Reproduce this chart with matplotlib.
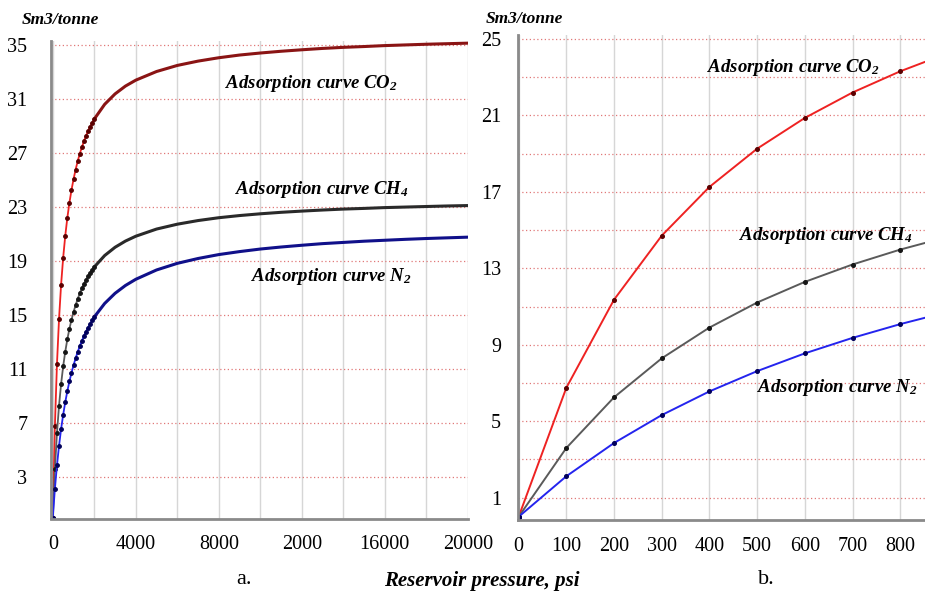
import matplotlib.pyplot as plt

plt.rcParams['font.family'] = ['Liberation Serif', 'DejaVu Serif']
plt.rcParams['mathtext.fontset'] = 'custom'
plt.rcParams['mathtext.rm'] = 'Liberation Serif:italic:bold'
plt.rcParams['mathtext.it'] = 'Liberation Serif:italic:bold'

# pressure, psi
pressure = [0, 100, 200, 300, 400, 500, 600, 700, 800, 900, 1000,
            1100, 1200, 1300, 1400, 1500, 1600, 1700, 1800, 1900, 2000,
            2500, 3000, 3500, 4000, 5000, 6000, 7000, 8000, 9000, 10000,
            11000, 12000, 13000, 14000, 15000, 16000, 17000, 18000, 19000, 20000]

# adsorbed volume, Sm3/tonne
co2 = [0, 6.75, 11.36, 14.71, 17.26, 19.26, 20.87, 22.20, 23.31, 24.26, 25.07,
       25.78, 26.40, 26.95, 27.43, 27.87, 28.27, 28.63, 28.95, 29.25, 29.52,
       30.61, 31.38, 31.96, 32.40, 33.04, 33.49, 33.81, 34.06, 34.26, 34.41,
       34.54, 34.65, 34.75, 34.83, 34.89, 34.96, 35.01, 35.06, 35.10, 35.14]
ch4 = [0, 3.60, 6.25, 8.29, 9.90, 11.21, 12.29, 13.20, 13.98, 14.65, 15.23,
       15.74, 16.20, 16.61, 16.97, 17.30, 17.60, 17.87, 18.12, 18.35, 18.56,
       19.41, 20.02, 20.48, 20.84, 21.37, 21.73, 22.00, 22.21, 22.37, 22.50,
       22.61, 22.70, 22.78, 22.85, 22.90, 22.96, 23.00, 23.04, 23.08, 23.11]
n2 = [0, 2.12, 3.86, 5.32, 6.56, 7.62, 8.55, 9.36, 10.08, 10.72, 11.29,
      11.80, 12.27, 12.70, 13.08, 13.44, 13.77, 14.07, 14.35, 14.61, 14.86,
      15.86, 16.61, 17.19, 17.65, 18.34, 18.83, 19.19, 19.48, 19.70, 19.89,
      20.04, 20.17, 20.29, 20.38, 20.47, 20.54, 20.61, 20.67, 20.72, 20.77]

a_xticks = [0, 4000, 8000, 12000, 16000, 20000]
a_xlabels = ['0', '4000', '8000', '2000', '16000', '20000']
a_xgrid = [2000, 6000, 10000, 14000, 18000]
a_yticks = [3, 7, 11, 15, 19, 23, 27, 31, 35]

b_xticks = [0, 100, 200, 300, 400, 500, 600, 700, 800]
b_yticks = [1, 5, 9, 13, 17, 21, 25]
b_ygrid = [3, 7, 11, 15, 19, 23]

curves = [
    (co2, '#ee2222', '#5a0000', '#8a1414', 'Adsorption curve CO$_2$'),
    (ch4, '#5a5a5a', '#151515', '#2a2a2a', 'Adsorption curve CH$_4$'),
    (n2, '#2424ee', '#00005a', '#10108a', 'Adsorption curve N$_2$'),
]

W, H = 925, 599
fig = plt.figure(figsize=(W / 100, H / 100), dpi=100)
ax_a = fig.add_axes([51 / W, 1 - 518.5 / H, 416.8 / W, 477.5 / H])
ax_b = fig.add_axes([517.7 / W, 1 - 520 / H, 407.3 / W, 485 / H])


def style_axes(ax):
    ax.set_axisbelow(True)
    for s in ['top', 'right']:
        ax.spines[s].set_visible(False)
    for s in ['left', 'bottom']:
        ax.spines[s].set_color('#8a8a8a')
        ax.spines[s].set_linewidth(2)
    ax.grid(True, which='both', axis='x', color='#d6d6d6', lw=1, ls='-')
    ax.grid(True, which='both', axis='y', color='#e07878', lw=0.9, ls=(0, (1, 2)))
    ax.tick_params(which='both', length=0, labelsize=14.5)
    ax.tick_params(axis='x', pad=12)


# panel a
style_axes(ax_a)
for vals, lc, mc, bc, _ in curves:
    ax_a.plot(pressure[20:], vals[20:], color=bc, lw=2.2, solid_capstyle='round')
    ax_a.plot(pressure[:21], vals[:21], color=lc, lw=1.3,
              marker='o', ms=2.5, mfc=mc, mec=mc)
ax_a.set_xlim(-87, 20000)
ax_a.set_ylim(-0.07, 35.3)
ax_a.set_xticks(a_xticks)
ax_a.set_xticklabels(a_xlabels)
ax_a.set_xticks(a_xgrid, minor=True)
ax_a.set_yticks(a_yticks)
ax_a.tick_params(axis='y', pad=17)

# panel b
style_axes(ax_b)
for vals, lc, mc, _, _ in curves:
    ax_b.plot(pressure[:10], vals[:10], color=lc, lw=1.4,
              marker='o', ms=2.6, mfc=mc, mec=mc)
ax_b.set_xlim(-2, 852)
ax_b.set_ylim(-0.17, 25.21)
ax_b.set_xticks(b_xticks)
ax_b.set_yticks(b_yticks)
ax_b.set_yticks(b_ygrid, minor=True)
ax_b.tick_params(axis='y', pad=12)

lab = dict(fontsize=13.5, fontweight='bold', fontstyle='italic', ha='center', va='center')
a_pos = [(311, 83), (322, 189), (331, 277)]
b_pos = [(793, 67), (826, 236), (837, 388)]
for (vals, lc, mc, bc, name), pa, pb in zip(curves, a_pos, b_pos):
    fig.text(pa[0] / W, 1 - pa[1] / H, name, **lab)
    fig.text(pb[0] / W, 1 - pb[1] / H, name, **lab)

unit = dict(fontsize=12.5, fontweight='bold', fontstyle='italic', ha='left', va='center')
fig.text(22 / W, 1 - 20 / H, 'Sm3/tonne', **unit)
fig.text(486 / W, 1 - 19 / H, 'Sm3/tonne', **unit)

fig.text(244 / W, 1 - 579 / H, 'a.', fontsize=16, ha='center', va='center')
fig.text(766 / W, 1 - 579 / H, 'b.', fontsize=16, ha='center', va='center')
fig.text(482 / W, 1 - 581 / H, 'Reservoir pressure, psi', fontsize=15,
         fontweight='bold', fontstyle='italic', ha='center', va='center')

fig.savefig('out.png', dpi=100)
